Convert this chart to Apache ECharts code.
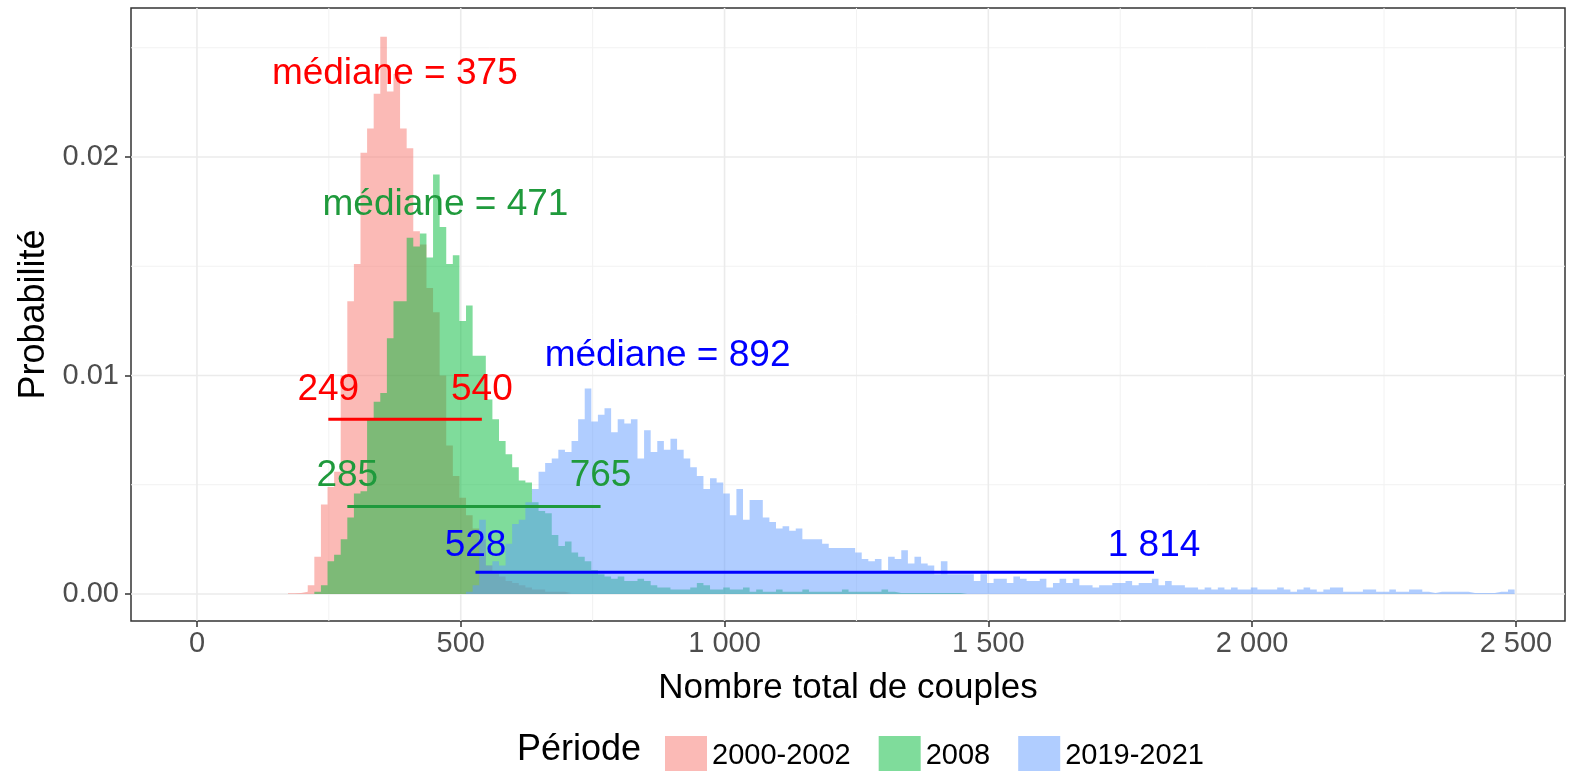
<!DOCTYPE html>
<html>
<head>
<meta charset="utf-8">
<script src="https://cdn.jsdelivr.net/npm/echarts@6/dist/echarts.min.js"></script>
<style>
  html, body { margin: 0; padding: 0; background: #fff; }
  #chart { width: 1570px; height: 771px; }
</style>
</head>
<body>
<div id="chart"></div>
<script>
// bins: bin k covers [BIN_ORIGIN + k * BIN_WIDTH, BIN_ORIGIN + (k + 1) * BIN_WIDTH]
const BIN_ORIGIN = 10
const BIN_WIDTH = 12.5

const periods = ['2000-2002', '2008', '2019-2021']

// 2000-2002
const redFirstBin = 13
const red = [
  0.00003, 0.00005, 0.0001, 0.0004, 0.0017, 0.0041, 0.0049, 0.0056, 0.0100, 0.0134,
  0.0151, 0.0202, 0.0213, 0.0229, 0.0255, 0.0230, 0.0238, 0.0213, 0.0204, 0.0166,
  0.0160, 0.0140, 0.0129, 0.0100, 0.0068, 0.0054, 0.0044, 0.0036, 0.0030, 0.0025,
  0.0013, 0.0010, 0.0008, 0.0006, 0.0005, 0.0004, 0.0003, 0.0002, 0.0002, 0.0001,
  0.0001, 0.0001, 0.00005
]

// 2008
const greenFirstBin = 17
const green = [
  0.0001, 0.0004, 0.0015, 0.0018, 0.0025, 0.0035, 0.0046, 0.0047, 0.0080, 0.0088,
  0.0092, 0.0117, 0.0134, 0.0134, 0.0163, 0.0159, 0.0165, 0.0154, 0.0192, 0.0168,
  0.0151, 0.0155, 0.0125, 0.0132, 0.0109, 0.0109, 0.0089, 0.0080, 0.0070, 0.0064,
  0.0058, 0.0052, 0.0051, 0.0042, 0.0038, 0.0037, 0.0027, 0.0022, 0.0024, 0.0019,
  0.0017, 0.0015, 0.0011, 0.0009, 0.0008, 0.0007, 0.0008, 0.0006, 0.0006, 0.0007,
  0.0006, 0.0004, 0.0003, 0.0003, 0.0002, 0.0002, 0.0002, 0.0003, 0.0005, 0.0004,
  0.0002, 0.0002, 0.0003, 0.0002, 0.0002, 0.0003, 0.0001, 0.0002, 0.0001, 0.0001,
  0.0002, 0.0001, 0.0001, 0.0001, 0.0002, 0.0001, 0.0001, 0.0001, 0.0001, 0.0001,
  0.0002, 0.0001, 0.0001, 0.0001, 0.0001, 0.0001, 0.0002, 0.0001, 0.00005, 0.00005,
  0.00005, 0.00005, 0.00005, 0.00005, 0.00005, 0.00005, 0.00005, 0.00005, 0.00005
]

// 2019-2021
const blueFirstBin = 40
const blue = [
  0.0001, 0.0004, 0.0034, 0.0013, 0.0015, 0.0013, 0.0023, 0.0032, 0.0034, 0.0042,
  0.0048, 0.0056, 0.0060, 0.0062, 0.0066, 0.0065, 0.0070, 0.0080, 0.0094, 0.0079,
  0.0082, 0.0085, 0.0074, 0.0080, 0.0078, 0.0080, 0.0062, 0.0075, 0.0065, 0.0070,
  0.0066, 0.0071, 0.0066, 0.0062, 0.0058, 0.0054, 0.0048, 0.0053, 0.0051, 0.0046,
  0.0036, 0.0048, 0.0034, 0.0043, 0.0043, 0.0035, 0.0033, 0.0030, 0.0031, 0.0029,
  0.0030, 0.0025, 0.0025, 0.0025, 0.0023, 0.0021, 0.0021, 0.0021, 0.0021, 0.0019,
  0.0016, 0.0015, 0.0016, 0.0011, 0.0017, 0.0016, 0.0020, 0.0014, 0.0017, 0.0014,
  0.0013, 0.0009, 0.0015, 0.0009, 0.0009, 0.0009, 0.0009, 0.0006, 0.0009, 0.0005,
  0.0007, 0.0007, 0.0005, 0.0008, 0.0007, 0.0006, 0.0006, 0.0007, 0.0003, 0.0005,
  0.0007, 0.0005, 0.0007, 0.0004, 0.0004, 0.0003,
  0.0004, 0.0004, 0.0005, 0.0005, 0.0006, 0.0004, 0.0005, 0.0005, 0.0007, 0.0004,
  0.0006, 0.0004, 0.0004, 0.0003, 0.0003, 0.0002, 0.0003, 0.0002, 0.0003, 0.0002,
  0.0003, 0.0002, 0.0002, 0.0003, 0.0002, 0.0002, 0.0002, 0.0003, 0.0002, 0.0001,
  0.0002, 0.0003, 0.0002, 0.0001, 0.0002, 0.0003, 0.0003, 0.0001, 0.0001, 0.0001,
  0.0002, 0.0002, 0.0001, 0.0001, 0.0002, 0.0001, 0.0001, 0.0002, 0.0002, 0.0001,
  0.00005, 0.0001, 0.0001, 0.0001, 0.0001, 0.0001, 0.00005, 0.00004, 0.00004, 0.00005,
  0.0001, 0.0001, 0.0002
]

// summaries: median and 95 % interval per period
const medians = [375, 471, 892]
const lowBounds = [249, 285, 528]
const highBounds = [540, 765, 1814]
const intervalY = [0.008, 0.004, 0.001]
const boundLabelY = [0.00935, 0.0054, 0.0022]
const medianLabelY = [0.0238, 0.0178, 0.0109]

const xTicks = [0, 500, 1000, 1500, 2000, 2500]
const xMinor = [250, 750, 1250, 1750, 2250]
const yTicks = [0, 0.01, 0.02]
const yMinor = [0.005, 0.015, 0.025]

const fillColors = ['rgba(248,118,109,0.5)', 'rgba(0,186,56,0.5)', 'rgba(97,156,255,0.5)']
const textColors = ['#FF0000', '#1F9A3C', '#0000FF']
const FONT = '"Liberation Sans", Arial, sans-serif'

function fmtThousands(v) {
  return String(v).replace(/\B(?=(\d{3})+(?!\d))/g, ' ')
}

// step outline of a histogram, so the area fill has no seams
function stepData(values, firstBin) {
  let pts = values.map((v, k) => [BIN_ORIGIN + (firstBin + k) * BIN_WIDTH, v])
  let last = values.length - 1
  pts.push([BIN_ORIGIN + (firstBin + last + 1) * BIN_WIDTH, values[last]])
  return pts
}

function histSeries(name, values, firstBin, color, z) {
  return {
    name: name,
    type: 'line',
    step: 'end',
    data: stepData(values, firstBin),
    showSymbol: false,
    color: color,
    lineStyle: {width: 0, color: color},
    areaStyle: {color: color, opacity: 1},
    itemStyle: {color: color},
    silent: true,
    z: z
  }
}

function gridSeries(values, vertical, major) {
  return {
    type: 'custom',
    silent: true,
    z: 1,
    data: values.map(v => vertical ? [v, 0] : [0, v]),
    renderItem: function (params, api) {
      let cs = params.coordSys
      let p = api.coord([api.value(0), api.value(1)])
      let shape = vertical
        ? {x1: p[0], y1: cs.y, x2: p[0], y2: cs.y + cs.height}
        : {x1: cs.x, y1: p[1], x2: cs.x + cs.width, y2: p[1]}
      return {
        type: 'line',
        shape: shape,
        style: {stroke: major ? '#EBEBEB' : '#F2F2F2', lineWidth: major ? 1.6 : 1}
      }
    }
  }
}

let chart = echarts.init(document.getElementById('chart'))

let series = [
  gridSeries(xMinor, true, false),
  gridSeries(yMinor, false, false),
  gridSeries(xTicks, true, true),
  gridSeries(yTicks, false, true),
  histSeries(periods[0], red, redFirstBin, fillColors[0], 2),
  histSeries(periods[1], green, greenFirstBin, fillColors[1], 3),
  histSeries(periods[2], blue, blueFirstBin, fillColors[2], 4)
]

// 95 % interval segments
periods.forEach((p, i) => {
  series.push({
    type: 'line',
    data: [[lowBounds[i], intervalY[i]], [highBounds[i], intervalY[i]]],
    showSymbol: false,
    lineStyle: {color: textColors[i], width: 3},
    silent: true,
    z: 6
  })
})

// text annotations
let labelPoints = []
let labelTexts = []
let labelColors = []
periods.forEach((p, i) => {
  labelPoints.push([medians[i], medianLabelY[i]])
  labelTexts.push('médiane = ' + fmtThousands(medians[i]))
  labelColors.push(textColors[i])
  labelPoints.push([lowBounds[i], boundLabelY[i]])
  labelTexts.push(fmtThousands(lowBounds[i]))
  labelColors.push(textColors[i])
  labelPoints.push([highBounds[i], boundLabelY[i]])
  labelTexts.push(fmtThousands(highBounds[i]))
  labelColors.push(textColors[i])
})

series.push({
  type: 'custom',
  silent: true,
  z: 7,
  data: labelPoints,
  renderItem: function (params, api) {
    let p = api.coord([api.value(0), api.value(1)])
    return {
      type: 'text',
      x: p[0],
      y: p[1],
      style: {
        text: labelTexts[params.dataIndex],
        fill: labelColors[params.dataIndex],
        fontSize: 37,
        fontFamily: FONT,
        align: 'center',
        verticalAlign: 'middle'
      }
    }
  }
})

let option = {
  animation: false,
  grid: {
    left: 131, right: 5, top: 8, bottom: 150,
    show: true, backgroundColor: '#FFFFFF', borderColor: '#333333', borderWidth: 1.5
  },
  xAxis: {
    type: 'value',
    min: -125, max: 2593,
    name: 'Nombre total de couples',
    nameLocation: 'middle',
    nameGap: 50,
    nameTextStyle: {fontSize: 35, color: '#000', fontFamily: FONT},
    axisLine: {show: false, onZero: false},
    axisTick: {show: true, customValues: xTicks, length: 6, lineStyle: {color: '#333333', width: 1.5}},
    axisLabel: {
      customValues: xTicks, margin: 8, fontSize: 29, color: '#4D4D4D', fontFamily: FONT,
      formatter: v => fmtThousands(v)
    },
    splitLine: {show: false}
  },
  yAxis: {
    type: 'value',
    min: -0.001236, max: 0.02682,
    name: 'Probabilité',
    nameLocation: 'middle',
    nameRotate: 90,
    nameGap: 76,
    nameTextStyle: {fontSize: 36, color: '#000', fontFamily: FONT},
    axisLine: {show: false, onZero: false},
    axisTick: {show: true, customValues: yTicks, length: 6, lineStyle: {color: '#333333', width: 1.5}},
    axisLabel: {
      customValues: yTicks, margin: 12, fontSize: 29, color: '#4D4D4D', fontFamily: FONT,
      formatter: v => v.toFixed(2)
    },
    splitLine: {show: false}
  },
  legend: {
    data: periods,
    left: 660,
    top: 731,
    icon: 'rect',
    itemWidth: 42,
    itemHeight: 40,
    itemGap: 28,
    selectedMode: false,
    textStyle: {fontSize: 29, color: '#000', fontFamily: FONT}
  },
  graphic: [{
    type: 'text',
    left: 517,
    top: 732,
    style: {text: 'Période', fontSize: 36, fill: '#000', fontFamily: FONT}
  }],
  series: series
}

chart.setOption(option)
</script>
</body>
</html>
